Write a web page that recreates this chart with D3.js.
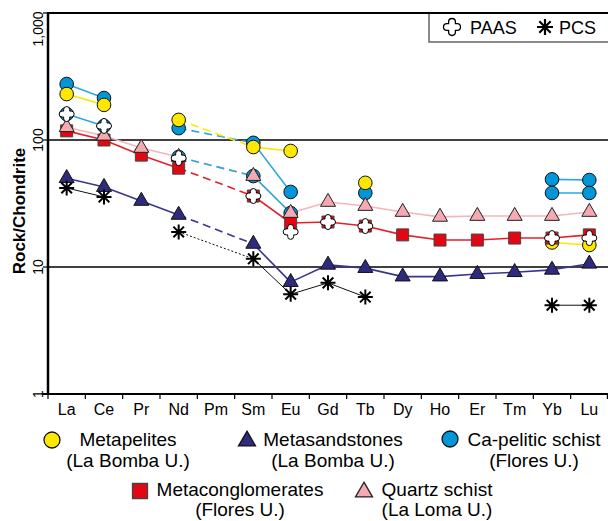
<!DOCTYPE html>
<html><head><meta charset="utf-8">
<script src="https://cdn.jsdelivr.net/npm/d3@7"></script>
<style>body{margin:0;background:#fff}svg{display:block;font-family:"Liberation Sans",Arial,sans-serif}</style>
</head><body>
<svg id="c" width="608" height="521"></svg>
<script>
const categories = ["La","Ce","Pr","Nd","Pm","Sm","Eu","Gd","Tb","Dy","Ho","Er","Tm","Yb","Lu"];
const yTicks = [1,10,100,1000];
const yTickLabels = ["1","10","100","1,000"];
const metasandstones   = [50,42.6,33.1,25.7,null,15.2,7.6,10.4,9.8,8.4,8.4,8.8,9.1,9.5,10.6];
const caPeliticA       = [276,214,null,124,null,95,39,null,38.3,null,null,null,null,49,48.4];
const caPeliticB       = [160,129,null,73.5,null,52,26.6,null,null,null,null,null,null,38.3,38.3];
const metapelites      = [230,189,null,144,null,88,82,null,46,null,null,null,null,15.6,14.9];
const metaconglomerates= [118,100,76,60,null,36.2,22.2,22.6,21.0,17.9,16.3,16.3,16.9,16.9,17.9];
const quartzSchist     = [126,108,86.5,73.5,null,52,26.6,32.5,30.2,27.1,24.8,25.2,25.2,25.2,27.1];
const pcs              = [41.9,35.6,null,18.9,null,11.6,6.1,7.5,5.8,null,null,null,null,5.0,5.0];
const paas             = [160,129,null,72,null,36.2,18.9,22.6,21.0,null,null,null,null,16.9,16.9];

const svg = d3.select("#c");
const L=48, R=608, T=13, B=394;
const x = d3.scaleBand().domain(categories).range([L,R]).padding(0);
const y = d3.scaleLog().domain([1,1000]).range([B,T]);
const cx = c => x(c)+x.bandwidth()/2;

function crossPath(s){const a=s*0.2,l=s/2;return `M${-a},${-l+a}A${a},${a} 0 0 1 ${a},${-l+a}L${a},${-a}L${l-a},${-a}A${a},${a} 0 0 1 ${l-a},${a}L${a},${a}L${a},${l-a}A${a},${a} 0 0 1 ${-a},${l-a}L${-a},${a}L${-l+a},${a}A${a},${a} 0 0 1 ${-l+a},${-a}L${-a},${-a}Z`;}
function starPath(s){const r=s/2,d=r*0.7071;return `M0,${-r}L0,${r}M${-r},0L${r},0M${-d},${-d}L${d},${d}M${-d},${d}L${d},${-d}`;}
const circ = r => d3.symbol().type(d3.symbolCircle).size(Math.PI*r*r)();
const sq = s => d3.symbol().type(d3.symbolSquare).size(s*s)();
const tri = w => d3.symbol().type(d3.symbolTriangle).size(w*w*Math.sqrt(3)/4)();

const series = [
 {v:metasandstones, line:"#3a3590", lw:1.6, dash:"8,5", shape:tri(15), fill:"#2e2a7e", stroke:"#111", sw:1},
 {v:caPeliticA, line:"#2aa9e0", lw:1.6, dash:"8,5", shape:circ(6.8), fill:"#0096d8", stroke:"#111", sw:1},
 {v:caPeliticB, line:"#2aa9e0", lw:1.6, dash:"8,5", shape:circ(6.8), fill:"#0096d8", stroke:"#111", sw:1},
 {v:metapelites, line:"#ffe600", lw:1.6, dash:"8,5", shape:circ(6.8), fill:"#ffe800", stroke:"#111", sw:1},
 {v:metaconglomerates, line:"#e5202a", lw:1.6, dash:"8,5", shape:sq(12), fill:"#e30613", stroke:"#444", sw:1},
 {v:quartzSchist, line:"#f6b5ba", lw:1.6, dash:"8,5", shape:tri(15), fill:"#f4aab0", stroke:"#222", sw:1},
 {v:pcs, line:"#111", lw:1, dash:"2,2", shape:starPath(15), fill:"none", stroke:"#000", sw:2},
 {v:paas, line:null, shape:crossPath(15), fill:"#fff", stroke:"#000", sw:1}
];

const g = svg.append("g");
[1000,100,10].forEach(v=>{
  g.append("line").attr("x1",L).attr("x2",R).attr("y1",y(v)).attr("y2",y(v))
   .attr("stroke","#000").attr("stroke-width", v===1000?2:1.5);
});

const lineOrder=[4,5,0,1,2,3,6];
lineOrder.forEach(si=>{
  const s=series[si]; if(!s.line) return;
  const idx=s.v.map((d,i)=>d==null?null:i).filter(i=>i!=null);
  for(let k=0;k<idx.length-1;k++){
    const i=idx[k], j=idx[k+1];
    let dash=null;
    if(j===i+1) dash=null;
    else if(i===3 && j===5) dash=s.dash;
    else continue;
    g.append("line").attr("x1",cx(categories[i])).attr("y1",y(s.v[i]))
     .attr("x2",cx(categories[j])).attr("y2",y(s.v[j]))
     .attr("stroke",s.line).attr("stroke-width",s.lw)
     .attr("stroke-dasharray",dash);
  }
});

series.forEach(s=>{
  g.selectAll(null).data(s.v.map((d,i)=>({d,c:categories[i]})).filter(o=>o.d!=null))
   .join("path").attr("d",s.shape)
   .attr("transform",o=>`translate(${cx(o.c)},${y(o.d)})`)
   .attr("fill",s.fill).attr("stroke",s.stroke).attr("stroke-width",s.sw)
   .attr("stroke-linejoin","round");
});

const xAxis = d3.axisBottom(x).tickSize(0).tickPadding(10);
const xa = svg.append("g").attr("transform",`translate(0,${B})`).call(xAxis);
xa.select(".domain").remove();
xa.selectAll("text").attr("font-size",16).attr("fill","#000").attr("font-family","Liberation Sans, Arial, sans-serif");
svg.append("line").attr("x1",L-6).attr("x2",R).attr("y1",B).attr("y2",B).attr("stroke","#000").attr("stroke-width",2);
categories.forEach(c=>{
  svg.append("line").attr("x1",x(c)).attr("x2",x(c)).attr("y1",B).attr("y2",B+5).attr("stroke","#000").attr("stroke-width",1.2);
});
svg.append("line").attr("x1",R-0.6).attr("x2",R-0.6).attr("y1",B).attr("y2",B+5).attr("stroke","#000").attr("stroke-width",1.2);
svg.append("line").attr("x1",L).attr("x2",L).attr("y1",T-1).attr("y2",B+1).attr("stroke","#000").attr("stroke-width",2.5);
yTicks.forEach((v,i)=>{
  svg.append("line").attr("x1",L-5).attr("x2",L).attr("y1",y(v)).attr("y2",y(v)).attr("stroke","#000").attr("stroke-width",1.2);
  const ty = v===1000 ? y(v)+16 : y(v);
  svg.append("text").attr("transform",`translate(43,${ty}) rotate(-90)`)
   .attr("text-anchor","middle").attr("font-size",14).text(yTickLabels[i]);
});
svg.append("text").attr("transform","translate(25,211) rotate(-90)")
 .attr("text-anchor","middle").attr("font-size",17).attr("font-weight","bold").text("Rock/Chondrite");

svg.append("rect").attr("x",429).attr("y",T).attr("width",190).attr("height",29)
 .attr("fill","#fff").attr("stroke","#666").attr("stroke-width",1.5);
svg.append("line").attr("x1",L).attr("x2",R).attr("y1",T).attr("y2",T).attr("stroke","#000").attr("stroke-width",2);
svg.append("path").attr("d",crossPath(17)).attr("transform","translate(452,27)").attr("fill","#fff").attr("stroke","#000").attr("stroke-width",1.3);
svg.append("text").attr("x",470).attr("y",34).attr("font-size",18).text("PAAS");
svg.append("path").attr("d",starPath(16)).attr("transform","translate(545,27)").attr("fill","none").attr("stroke","#000").attr("stroke-width",2.2);
svg.append("text").attr("x",559).attr("y",34).attr("font-size",18).text("PCS");

const legend = [
 {shape:circ(8), fill:"#ffe800", stroke:"#111", sx:52, sy:440, cxT:128, l1:"Metapelites", l2:"(La Bomba U.)", y1:446, y2:467},
 {shape:tri(17), fill:"#2e2a7e", stroke:"#111", sx:247, sy:441, cxT:333, l1:"Metasandstones", l2:"(La Bomba U.)", y1:446, y2:467},
 {shape:circ(8), fill:"#0096d8", stroke:"#111", sx:450, sy:439, cxT:534, l1:"Ca-pelitic schist", l2:"(Flores U.)", y1:446, y2:467},
 {shape:sq(15), fill:"#e30613", stroke:"#444", sx:140, sy:491, cxT:240, l1:"Metaconglomerates", l2:"(Flores U.)", y1:496, y2:516},
 {shape:tri(17), fill:"#f4aab0", stroke:"#222", sx:364, sy:492, cxT:437, l1:"Quartz schist", l2:"(La Loma U.)", y1:496, y2:516}
];
legend.forEach(d=>{
  svg.append("path").attr("d",d.shape).attr("transform",`translate(${d.sx},${d.sy})`)
   .attr("fill",d.fill).attr("stroke",d.stroke).attr("stroke-width",1.3);
  svg.append("text").attr("x",d.cxT).attr("y",d.y1).attr("text-anchor","middle").attr("font-size",19).text(d.l1);
  svg.append("text").attr("x",d.cxT).attr("y",d.y2).attr("text-anchor","middle").attr("font-size",19).text(d.l2);
});
</script>
</body></html>
